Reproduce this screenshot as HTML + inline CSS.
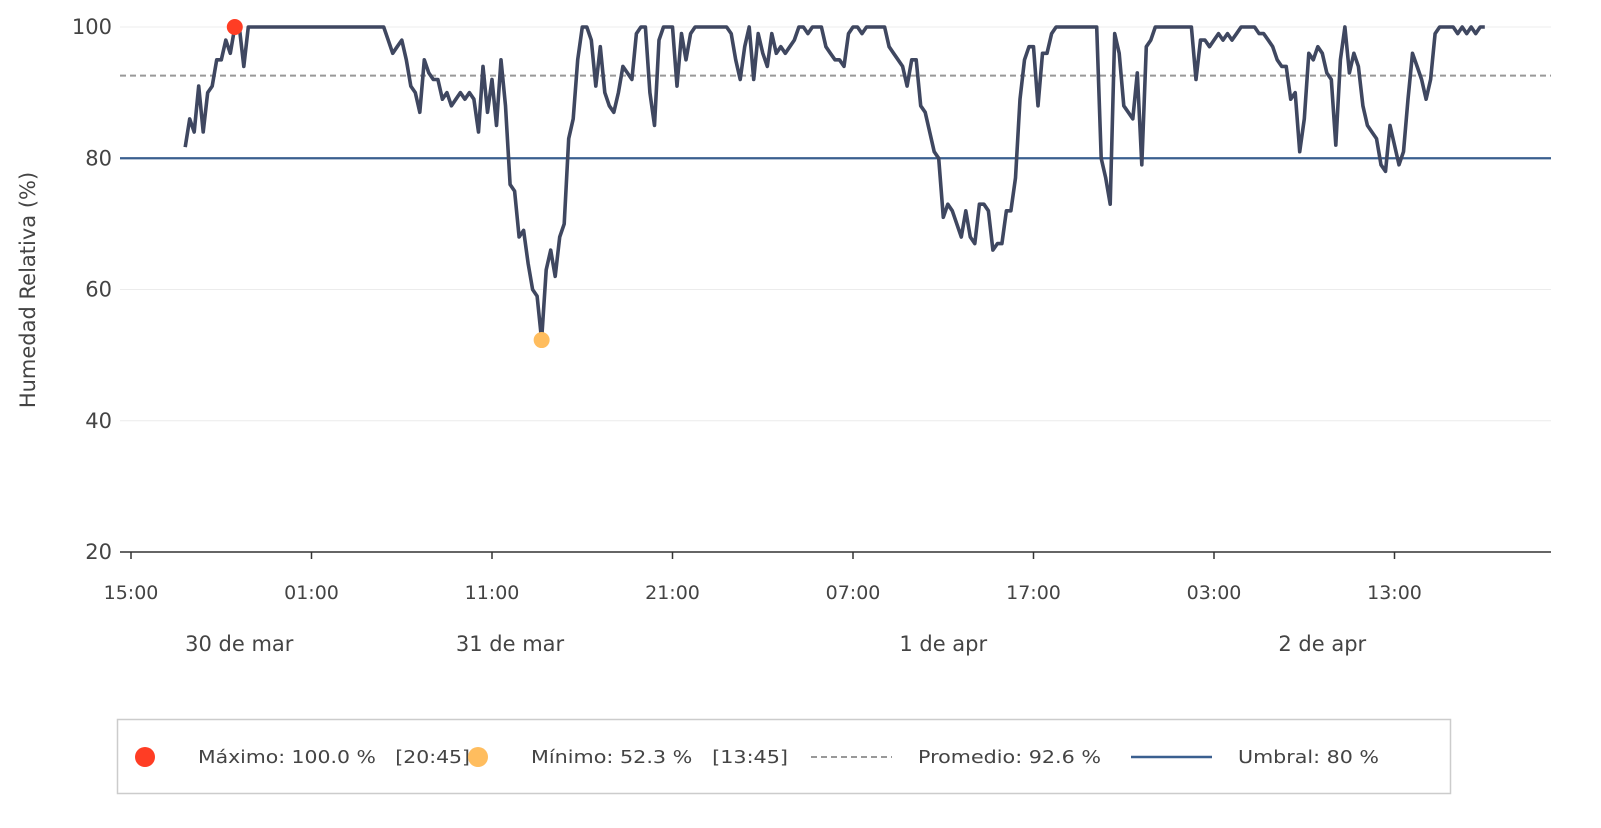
<!DOCTYPE html>
<html><head><meta charset="utf-8">
<style>
html,body{margin:0;padding:0;background:#fff;}
svg{display:block;font-family:"DejaVu Sans","Liberation Sans",sans-serif;}
svg text{white-space:pre;}
</style></head>
<body>
<svg id="chart" width="1601" height="828" viewBox="0 0 1601 828" xmlns="http://www.w3.org/2000/svg" xml:space="preserve">
  <g id="grid"></g>
  <g id="yticks"></g>
  <text x="35" y="290" transform="rotate(-90 35 290)" text-anchor="middle" font-size="21" fill="#444">Humedad Relativa (%)</text>
  <g id="refs"></g>
  <g id="series"></g>
  <g id="xaxis"></g>
  <g>
    <rect x="117.5" y="719.5" width="1333" height="74" fill="#fff" stroke="#ccc" stroke-width="1.5"/>
    <circle cx="145" cy="757" r="10" fill="#ff3d24"/>
    <text x="198" y="763" font-size="18" fill="#444" textLength="272" lengthAdjust="spacingAndGlyphs">Máximo: 100.0 %   [20:45]</text>
    <circle cx="478" cy="757" r="10" fill="#ffbd5e"/>
    <text x="531" y="763" font-size="18" fill="#444" textLength="257" lengthAdjust="spacingAndGlyphs">Mínimo: 52.3 %   [13:45]</text>
    <line x1="811" y1="757" x2="892" y2="757" stroke="#999" stroke-width="2" stroke-dasharray="6,4"/>
    <text x="918" y="763" font-size="18" fill="#444" textLength="183" lengthAdjust="spacingAndGlyphs">Promedio: 92.6 %</text>
    <line x1="1131" y1="757" x2="1212" y2="757" stroke="#3a5f8f" stroke-width="2.5"/>
    <text x="1238" y="763" font-size="18" fill="#444" textLength="141" lengthAdjust="spacingAndGlyphs">Umbral: 80 %</text>
  </g>
</svg>
<script>
const yTicks = [20, 40, 60, 80, 100];
const xTickLabels = ["15:00","01:00","11:00","21:00","07:00","17:00","03:00","13:00"];
const xTickHours = [0, 10, 20, 30, 40, 50, 60, 70];
const dateLabels = ["30 de mar","31 de mar","1 de apr","2 de apr"];
const dateLabelHours = [6, 21, 45, 66];
const startHour = 3; // series starts 18:00 on 30 de mar (hours after 15:00)
const stepHours = 0.25;
const humidity = [81.7,86,84,91,84,90,91,95,95,98,96,100,100,94,100,
100,100,100,100,100,100,100,100,100,100,100,100,100,100,100,100,100,100,100,100,100,100,100,100,100,100,100,100,100,100,
98,96,97,98,95,91,90,87,95,93,92,92,89,90,88,89,90,89,90,89,84,94,87,92,85,95,88,76,75,68,69,64,60,59,52.3,
63,66,62,68,70,83,86,95,100,100,98,91,97,90,88,87,90,94,93,92,99,100,100,90,85,98,100,100,100,91,99,95,99,100,
100,100,100,100,100,100,100,
99,95,92,97,100,92,99,96,94,99,96,97,96,97,98,100,100,99,100,100,100,97,96,95,95,94,99,100,100,99,100,100,100,100,100,
97,96,95,94,91,95,95,88,87,84,81,80,71,73,72,70,68,72,68,67,73,73,72,66,67,67,72,72,77,89,95,97,97,88,96,96,99,100,
100,100,100,100,100,100,100,100,100,
80,77,73,99,96,88,87,86,93,79,97,98,100,
100,100,100,100,100,100,100,100,
92,98,98,97,98,99,98,99,98,99,100,100,100,100,99,99,98,97,95,94,94,89,90,81,86,96,95,97,96,93,92,82,95,100,93,96,94,88,85,84,83,79,78,85,82,79,81,89,96,94,92,89,92,99,100,100,100,100,99,100,99,100,99,100,100];
const avgValue = 92.6;
const thresholdValue = 80;

const X0 = 131, PXH = 18.05;
const xScale = h => X0 + h * PXH;
const yScale = v => 552 - (v - 20) * (525 / 80);
const NS = "http://www.w3.org/2000/svg";
function mk(tag, attrs, parent){ const e=document.createElementNS(NS,tag); for(const k in attrs) e.setAttribute(k,attrs[k]); parent.appendChild(e); return e; }

const grid = document.getElementById('grid');
const yt = document.getElementById('yticks');
yTicks.forEach(v=>{
  if (v>20){
    const g = mk('line',{x1:120,x2:1551,y1:yScale(v),y2:yScale(v),stroke:'#ececec','stroke-width':1},grid);
    
    
  }
  const t = mk('text',{x:112,y:yScale(v)+7,'text-anchor':'end','font-size':21,fill:'#444'},yt);
  t.textContent = v;
  
  
});

const refs = document.getElementById('refs');
const avg = mk('line',{x1:120,x2:1551,y1:yScale(avgValue),y2:yScale(avgValue),stroke:'#999','stroke-width':2,'stroke-dasharray':'6,4'},refs);


const thr = mk('line',{x1:120,x2:1551,y1:yScale(thresholdValue),y2:yScale(thresholdValue),stroke:'#3a5f8f','stroke-width':2.2},refs);



const series = document.getElementById('series');
let d = '';
let maxI=0, minI=0;
humidity.forEach((v,i)=>{
  const x = xScale(startHour + i*stepHours), y = yScale(v);
  d += (i? 'L':'M') + x.toFixed(1) + ',' + y.toFixed(1);
  if (v>humidity[maxI]) maxI=i;
  if (v<humidity[minI]) minI=i;
});
const path = mk('path',{d:d,fill:'none',stroke:'#3f4760','stroke-width':3.6,'stroke-linejoin':'round'},series);


const mx = mk('circle',{cx:xScale(startHour+maxI*stepHours),cy:yScale(humidity[maxI]),r:8,fill:'#ff3d24'},series);


const mn = mk('circle',{cx:xScale(startHour+minI*stepHours),cy:yScale(humidity[minI]),r:8,fill:'#ffbd5e'},series);



const xa = document.getElementById('xaxis');
const ax = mk('line',{x1:120,x2:1551,y1:552,y2:552,stroke:'#333','stroke-width':1.5},xa);


xTickHours.forEach((h,i)=>{
  const x = xScale(h);
  const tk = mk('line',{x1:x,x2:x,y1:552,y2:559,stroke:'#333','stroke-width':1.5},xa);
  
  
  const t = mk('text',{x:x,y:599,'text-anchor':'middle','font-size':19,fill:'#444'},xa);
  t.textContent = xTickLabels[i];
  
  
});
dateLabels.forEach((lab,i)=>{
  const t = mk('text',{x:xScale(dateLabelHours[i]),y:651,'text-anchor':'middle','font-size':21,fill:'#444'},xa);
  t.textContent = lab;
  
  
});
</script>
</body></html>
